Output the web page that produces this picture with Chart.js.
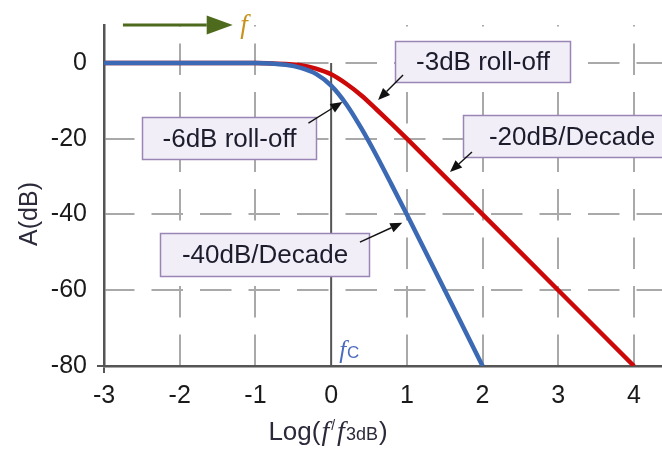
<!DOCTYPE html>
<html>
<head>
<meta charset="utf-8">
<script src="https://cdn.jsdelivr.net/npm/chart.js@4/dist/chart.umd.min.js"></script>
<style>
  html, body { margin: 0; padding: 0; background: #fff; }
  #wrap { width: 662px; height: 449px; }
</style>
</head>
<body>
<div id="wrap"><canvas id="filterChart"></canvas></div>
<script>
// --- data ---
const xTicks = [-3, -2, -1, 0, 1, 2, 3, 4];
const yTicks = [-80, -60, -40, -20, 0];

// first order (red), -3dB at fc, -20dB/decade
const redX = [-3, -1, -0.6, -0.4, -0.2, 0, 0.2, 0.4, 0.6, 0.8, 1, 2, 3, 4];
const redY = [0, 0, -0.3, -0.6, -1.5, -3, -5.5, -8.6, -12.3, -16.1, -20, -40, -60, -80];

// second order (blue), -6dB at fc, -40dB/decade
const blueX = [-3, -1, -0.6, -0.4, -0.2, 0, 0.2, 0.4, 0.6, 0.8, 1, 2];
const blueY = [0, 0, -0.5, -1.3, -2.9, -6, -10.9, -17.3, -24.5, -32.2, -40, -80];

// solid marker at the cut-off frequency
const cutoffX = [0, 0];
const cutoffY = [0, -80];

const toPoints = (xs, ys) => xs.map((x, i) => ({ x: x, y: ys[i] }));

// --- labels and arrows (positions in axis values) ---
const callouts = [
    { text: '-6dB roll-off', cx: -1.35, cy: -19.8, w: 174, h: 42, from: [-0.30, -15.9], to: [0.15, -10.3] },
    { text: '-3dB roll-off', cx: 2.0, cy: 0.4, w: 175, h: 41, from: [0.95, -3.2], to: [0.62, -9.8] },
    { text: '-20dB/Decade', cx: 3.18, cy: -19.4, w: 217, h: 42, from: [1.86, -23.5], to: [1.57, -28.8] },
    { text: '-40dB/Decade', cx: -0.88, cy: -50.6, w: 209, h: 43, from: [0.38, -47.3], to: [0.94, -42.2] }
];

function arrow(ctx, x1, y1, x2, y2, color, width, headLen, headW) {
    const ang = Math.atan2(y2 - y1, x2 - x1);
    const bx = x2 - headLen * Math.cos(ang);
    const by = y2 - headLen * Math.sin(ang);
    ctx.strokeStyle = color;
    ctx.fillStyle = color;
    ctx.lineWidth = width;
    ctx.beginPath();
    ctx.moveTo(x1, y1);
    ctx.lineTo(bx, by);
    ctx.stroke();
    ctx.beginPath();
    ctx.moveTo(x2, y2);
    ctx.lineTo(bx + headW * Math.sin(ang), by - headW * Math.cos(ang));
    ctx.lineTo(bx - headW * Math.sin(ang), by + headW * Math.cos(ang));
    ctx.closePath();
    ctx.fill();
}

// draws a sequence of text pieces, each with its own font and y shift
function richText(ctx, pieces, startX, baseY, color) {
    let x = startX;
    ctx.fillStyle = color;
    ctx.textAlign = 'left';
    ctx.textBaseline = 'alphabetic';
    pieces.forEach(p => {
        ctx.font = p.font;
        ctx.fillText(p.t, x, baseY + (p.dy || 0));
        x += ctx.measureText(p.t).width + (p.gap || 0);
    });
}
function richWidth(ctx, pieces) {
    let w = 0;
    pieces.forEach(p => { ctx.font = p.font; w += ctx.measureText(p.t).width + (p.gap || 0); });
    return w;
}

const decorations = {
    id: 'decorations',
    afterDatasetsDraw(chart) {
        const ctx = chart.ctx;
        const sx = chart.scales.x, sy = chart.scales.y;
        const px = v => sx.getPixelForValue(v);
        const py = v => sy.getPixelForValue(v);
        ctx.save();

        // callout boxes
        callouts.forEach(c => {
            const x = Math.round(px(c.cx) - c.w / 2) + 0.5;
            const y = Math.round(py(c.cy) - c.h / 2) + 0.5;
            ctx.fillStyle = '#f1eef7';
            ctx.strokeStyle = '#9a86b6';
            ctx.lineWidth = 1.5;
            ctx.fillRect(x, y, c.w, c.h);
            ctx.strokeRect(x, y, c.w, c.h);
            ctx.fillStyle = '#1c1c2c';
            ctx.font = '26px "Liberation Sans", Arial, sans-serif';
            ctx.textAlign = 'center';
            ctx.textBaseline = 'middle';
            ctx.fillText(c.text, x + c.w / 2, y + c.h / 2 + 1);
            arrow(ctx, px(c.from[0]), py(c.from[1]), px(c.to[0]), py(c.to[1]), '#111', 1.4, 12, 5);
        });

        // frequency arrow at top
        const ay = chart.chartArea.top;
        arrow(ctx, px(-2.75), ay, px(-1.3), ay, '#4e6b1d', 3, 26, 9.5);
        ctx.font = 'italic 27px "Liberation Serif", serif';
        ctx.fillStyle = '#c8921c';
        ctx.textAlign = 'left';
        ctx.textBaseline = 'alphabetic';
        ctx.fillText('f', px(-1.2), ay + 8);

        // fc label
        richText(ctx, [
            { t: 'f', font: 'italic 25px "Liberation Serif", serif', gap: 1 },
            { t: 'C', font: '17px "Liberation Sans", Arial, sans-serif' }
        ], px(0) + 8, py(-80) - 8, '#4a6bbf');

        ctx.restore();
    },
    afterDraw(chart) {
        const ctx = chart.ctx;
        ctx.save();
        // x axis title: Log(f/f3dB)
        const sans = '"Liberation Sans", Arial, sans-serif';
        const pieces = [
            { t: 'Log(', font: '26px ' + sans, gap: 1 },
            { t: 'f', font: 'italic 28px "Liberation Serif", serif', gap: 2 },
            { t: '/', font: '14px ' + sans, dy: -10, gap: 2 },
            { t: 'f', font: 'italic 28px "Liberation Serif", serif', gap: 1 },
            { t: '3dB', font: '18px ' + sans, gap: 1 },
            { t: ')', font: '26px ' + sans }
        ];
        const w = richWidth(ctx, pieces);
        richText(ctx, pieces, 328 - w / 2, 440, '#2a2a3a');

        // y axis title
        ctx.translate(30, 214);
        ctx.rotate(-Math.PI / 2);
        ctx.font = '25px ' + sans;
        ctx.fillStyle = '#2a2a3a';
        ctx.textAlign = 'center';
        ctx.textBaseline = 'middle';
        ctx.fillText('A(dB)', 0, 0);
        ctx.restore();
    }
};

const gridGray = '#a9a9a9';
const axisGray = '#555555';

new Chart(document.getElementById('filterChart'), {
    type: 'scatter',
    data: {
        datasets: [
            {
                label: 'Second order',
                data: toPoints(blueX, blueY),
                showLine: true,
                borderColor: '#3c69b3',
                borderWidth: 4.5,
                pointRadius: 0,
                cubicInterpolationMode: 'monotone'
            },
            {
                label: 'First order',
                data: toPoints(redX, redY),
                showLine: true,
                borderColor: '#cc0808',
                borderWidth: 4.5,
                pointRadius: 0,
                cubicInterpolationMode: 'monotone'
            },
            {
                label: 'fc',
                data: toPoints(cutoffX, cutoffY),
                showLine: true,
                borderColor: axisGray,
                borderWidth: 2,
                pointRadius: 0
            }
        ]
    },
    options: {
        responsive: true,
        maintainAspectRatio: false,
        animation: false,
        layout: { padding: { top: 25, left: 0, right: 0, bottom: 0 } },
        plugins: {
            legend: { display: false },
            tooltip: { enabled: false }
        },
        scales: {
            x: {
                type: 'linear',
                min: -3,
                max: 4.37,
                afterBuildTicks: s => { s.ticks = xTicks.map(v => ({ value: v })); },
                afterFit: s => { s.height = 83; },
                ticks: {
                    color: '#1a1a1a',
                    font: { family: '"Liberation Sans", Arial, sans-serif', size: 25 },
                    padding: 8,
                    maxRotation: 0
                },
                grid: {
                    color: ctx => (ctx.tick && (ctx.tick.value === -3 || ctx.tick.value === 0)) ? 'rgba(0,0,0,0)' : gridGray,
                    lineWidth: 2,
                    tickLength: 7,
                    tickWidth: 2,
                    tickColor: ctx => ctx.index === 0 ? axisGray : 'rgba(0,0,0,0)'
                },
                border: { color: axisGray, width: 2.5, dash: [31.5, 17], dashOffset: 30 }
            },
            y: {
                type: 'linear',
                min: -80,
                max: 10,
                afterBuildTicks: s => { s.ticks = yTicks.map(v => ({ value: v })); },
                afterFit: s => { s.width = 104; },
                ticks: {
                    color: '#1a1a1a',
                    font: { family: '"Liberation Sans", Arial, sans-serif', size: 25 },
                    padding: 10
                },
                grid: {
                    color: ctx => (ctx.tick && ctx.tick.value === -80) ? 'rgba(0,0,0,0)' : gridGray,
                    lineWidth: 2,
                    tickLength: 7,
                    tickWidth: 2,
                    tickColor: ctx => ctx.index === 0 ? axisGray : 'rgba(0,0,0,0)'
                },
                border: { color: axisGray, width: 2.5, dash: [31.5, 17], dashOffset: 2.5 }
            }
        }
    },
    plugins: [decorations]
});
</script>
</body>
</html>
